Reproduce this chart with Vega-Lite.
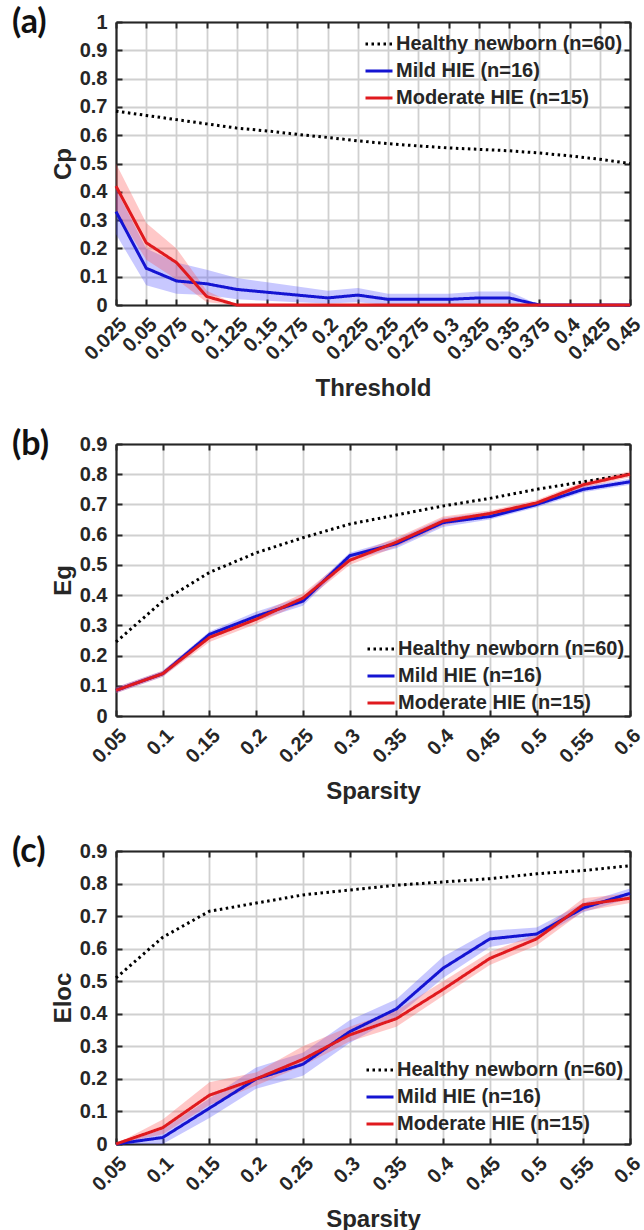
{
  "$schema": "https://vega.github.io/schema/vega-lite/v6.json",
  "background": "white",
  "padding": {"left": 12, "top": 6, "right": 0, "bottom": 0},
  "autosize": {"type": "pad"},
  "bounds": "flush",
  "spacing": 139,
  "resolve": {"scale": {"color": "independent", "strokeDash": "independent", "fill": "independent"}, "legend": {"color": "independent", "strokeDash": "independent"}},
  "datasets": {
    "a": [
      {"x": 0.025, "g": "Healthy newborn (n=60)", "y": 0.685},
      {"x": 0.05, "g": "Healthy newborn (n=60)", "y": 0.67},
      {"x": 0.075, "g": "Healthy newborn (n=60)", "y": 0.655},
      {"x": 0.1, "g": "Healthy newborn (n=60)", "y": 0.64},
      {"x": 0.125, "g": "Healthy newborn (n=60)", "y": 0.625},
      {"x": 0.15, "g": "Healthy newborn (n=60)", "y": 0.615},
      {"x": 0.175, "g": "Healthy newborn (n=60)", "y": 0.603},
      {"x": 0.2, "g": "Healthy newborn (n=60)", "y": 0.592},
      {"x": 0.225, "g": "Healthy newborn (n=60)", "y": 0.58},
      {"x": 0.25, "g": "Healthy newborn (n=60)", "y": 0.57},
      {"x": 0.275, "g": "Healthy newborn (n=60)", "y": 0.562},
      {"x": 0.3, "g": "Healthy newborn (n=60)", "y": 0.555},
      {"x": 0.325, "g": "Healthy newborn (n=60)", "y": 0.55},
      {"x": 0.35, "g": "Healthy newborn (n=60)", "y": 0.545},
      {"x": 0.375, "g": "Healthy newborn (n=60)", "y": 0.537},
      {"x": 0.4, "g": "Healthy newborn (n=60)", "y": 0.527},
      {"x": 0.425, "g": "Healthy newborn (n=60)", "y": 0.515},
      {"x": 0.45, "g": "Healthy newborn (n=60)", "y": 0.5},
      {"x": 0.025, "g": "Mild HIE (n=16)", "y": 0.33, "lo": 0.25, "hi": 0.41},
      {"x": 0.05, "g": "Mild HIE (n=16)", "y": 0.13, "lo": 0.07, "hi": 0.2},
      {"x": 0.075, "g": "Mild HIE (n=16)", "y": 0.085, "lo": 0.04, "hi": 0.15},
      {"x": 0.1, "g": "Mild HIE (n=16)", "y": 0.075, "lo": 0.035, "hi": 0.125},
      {"x": 0.125, "g": "Mild HIE (n=16)", "y": 0.055, "lo": 0.02, "hi": 0.095},
      {"x": 0.15, "g": "Mild HIE (n=16)", "y": 0.045, "lo": 0.015, "hi": 0.08},
      {"x": 0.175, "g": "Mild HIE (n=16)", "y": 0.035, "lo": 0.01, "hi": 0.065},
      {"x": 0.2, "g": "Mild HIE (n=16)", "y": 0.025, "lo": 0.005, "hi": 0.05},
      {"x": 0.225, "g": "Mild HIE (n=16)", "y": 0.035, "lo": 0.01, "hi": 0.06},
      {"x": 0.25, "g": "Mild HIE (n=16)", "y": 0.02, "lo": 0.0, "hi": 0.04},
      {"x": 0.275, "g": "Mild HIE (n=16)", "y": 0.02, "lo": 0.0, "hi": 0.04},
      {"x": 0.3, "g": "Mild HIE (n=16)", "y": 0.02, "lo": 0.0, "hi": 0.04},
      {"x": 0.325, "g": "Mild HIE (n=16)", "y": 0.025, "lo": 0.005, "hi": 0.048},
      {"x": 0.35, "g": "Mild HIE (n=16)", "y": 0.025, "lo": 0.005, "hi": 0.048},
      {"x": 0.375, "g": "Mild HIE (n=16)", "y": 0.0, "lo": 0.0, "hi": 0.0},
      {"x": 0.4, "g": "Mild HIE (n=16)", "y": 0.0, "lo": 0.0, "hi": 0.0},
      {"x": 0.425, "g": "Mild HIE (n=16)", "y": 0.0, "lo": 0.0, "hi": 0.0},
      {"x": 0.45, "g": "Mild HIE (n=16)", "y": 0.0, "lo": 0.0, "hi": 0.0},
      {"x": 0.025, "g": "Moderate HIE (n=15)", "y": 0.42, "lo": 0.33, "hi": 0.5},
      {"x": 0.05, "g": "Moderate HIE (n=15)", "y": 0.22, "lo": 0.16, "hi": 0.29},
      {"x": 0.075, "g": "Moderate HIE (n=15)", "y": 0.15, "lo": 0.09, "hi": 0.2},
      {"x": 0.1, "g": "Moderate HIE (n=15)", "y": 0.03, "lo": 0.01, "hi": 0.05},
      {"x": 0.125, "g": "Moderate HIE (n=15)", "y": 0.0, "lo": 0.0, "hi": 0.0},
      {"x": 0.15, "g": "Moderate HIE (n=15)", "y": 0.0, "lo": 0.0, "hi": 0.0},
      {"x": 0.175, "g": "Moderate HIE (n=15)", "y": 0.0, "lo": 0.0, "hi": 0.0},
      {"x": 0.2, "g": "Moderate HIE (n=15)", "y": 0.0, "lo": 0.0, "hi": 0.0},
      {"x": 0.225, "g": "Moderate HIE (n=15)", "y": 0.0, "lo": 0.0, "hi": 0.0},
      {"x": 0.25, "g": "Moderate HIE (n=15)", "y": 0.0, "lo": 0.0, "hi": 0.0},
      {"x": 0.275, "g": "Moderate HIE (n=15)", "y": 0.0, "lo": 0.0, "hi": 0.0},
      {"x": 0.3, "g": "Moderate HIE (n=15)", "y": 0.0, "lo": 0.0, "hi": 0.0},
      {"x": 0.325, "g": "Moderate HIE (n=15)", "y": 0.0, "lo": 0.0, "hi": 0.0},
      {"x": 0.35, "g": "Moderate HIE (n=15)", "y": 0.0, "lo": 0.0, "hi": 0.0},
      {"x": 0.375, "g": "Moderate HIE (n=15)", "y": 0.0, "lo": 0.0, "hi": 0.0},
      {"x": 0.4, "g": "Moderate HIE (n=15)", "y": 0.0, "lo": 0.0, "hi": 0.0},
      {"x": 0.425, "g": "Moderate HIE (n=15)", "y": 0.0, "lo": 0.0, "hi": 0.0},
      {"x": 0.45, "g": "Moderate HIE (n=15)", "y": 0.0, "lo": 0.0, "hi": 0.0}
    ],
    "b": [
      {"x": 0.05, "g": "Healthy newborn (n=60)", "y": 0.245},
      {"x": 0.1, "g": "Healthy newborn (n=60)", "y": 0.38},
      {"x": 0.15, "g": "Healthy newborn (n=60)", "y": 0.475},
      {"x": 0.2, "g": "Healthy newborn (n=60)", "y": 0.54},
      {"x": 0.25, "g": "Healthy newborn (n=60)", "y": 0.59},
      {"x": 0.3, "g": "Healthy newborn (n=60)", "y": 0.635},
      {"x": 0.35, "g": "Healthy newborn (n=60)", "y": 0.665},
      {"x": 0.4, "g": "Healthy newborn (n=60)", "y": 0.695},
      {"x": 0.45, "g": "Healthy newborn (n=60)", "y": 0.72},
      {"x": 0.5, "g": "Healthy newborn (n=60)", "y": 0.75},
      {"x": 0.55, "g": "Healthy newborn (n=60)", "y": 0.775},
      {"x": 0.6, "g": "Healthy newborn (n=60)", "y": 0.8},
      {"x": 0.05, "g": "Mild HIE (n=16)", "y": 0.085, "lo": 0.075, "hi": 0.095},
      {"x": 0.1, "g": "Mild HIE (n=16)", "y": 0.14, "lo": 0.13, "hi": 0.15},
      {"x": 0.15, "g": "Mild HIE (n=16)", "y": 0.27, "lo": 0.255, "hi": 0.28},
      {"x": 0.2, "g": "Mild HIE (n=16)", "y": 0.33, "lo": 0.315, "hi": 0.345},
      {"x": 0.25, "g": "Mild HIE (n=16)", "y": 0.38, "lo": 0.365, "hi": 0.395},
      {"x": 0.3, "g": "Mild HIE (n=16)", "y": 0.53, "lo": 0.515, "hi": 0.54},
      {"x": 0.35, "g": "Mild HIE (n=16)", "y": 0.57, "lo": 0.555, "hi": 0.585},
      {"x": 0.4, "g": "Mild HIE (n=16)", "y": 0.64, "lo": 0.625, "hi": 0.655},
      {"x": 0.45, "g": "Mild HIE (n=16)", "y": 0.66, "lo": 0.65, "hi": 0.675},
      {"x": 0.5, "g": "Mild HIE (n=16)", "y": 0.7, "lo": 0.69, "hi": 0.71},
      {"x": 0.55, "g": "Mild HIE (n=16)", "y": 0.75, "lo": 0.74, "hi": 0.76},
      {"x": 0.6, "g": "Mild HIE (n=16)", "y": 0.775, "lo": 0.765, "hi": 0.785},
      {"x": 0.05, "g": "Moderate HIE (n=15)", "y": 0.085, "lo": 0.075, "hi": 0.095},
      {"x": 0.1, "g": "Moderate HIE (n=15)", "y": 0.14, "lo": 0.13, "hi": 0.15},
      {"x": 0.15, "g": "Moderate HIE (n=15)", "y": 0.26, "lo": 0.245, "hi": 0.275},
      {"x": 0.2, "g": "Moderate HIE (n=15)", "y": 0.32, "lo": 0.305, "hi": 0.335},
      {"x": 0.25, "g": "Moderate HIE (n=15)", "y": 0.39, "lo": 0.375, "hi": 0.405},
      {"x": 0.3, "g": "Moderate HIE (n=15)", "y": 0.515, "lo": 0.5, "hi": 0.53},
      {"x": 0.35, "g": "Moderate HIE (n=15)", "y": 0.575, "lo": 0.56, "hi": 0.59},
      {"x": 0.4, "g": "Moderate HIE (n=15)", "y": 0.645, "lo": 0.63, "hi": 0.66},
      {"x": 0.45, "g": "Moderate HIE (n=15)", "y": 0.67, "lo": 0.66, "hi": 0.68},
      {"x": 0.5, "g": "Moderate HIE (n=15)", "y": 0.705, "lo": 0.695, "hi": 0.715},
      {"x": 0.55, "g": "Moderate HIE (n=15)", "y": 0.765, "lo": 0.755, "hi": 0.775},
      {"x": 0.6, "g": "Moderate HIE (n=15)", "y": 0.8, "lo": 0.79, "hi": 0.81}
    ],
    "c": [
      {"x": 0.05, "g": "Healthy newborn (n=60)", "y": 0.51},
      {"x": 0.1, "g": "Healthy newborn (n=60)", "y": 0.635},
      {"x": 0.15, "g": "Healthy newborn (n=60)", "y": 0.715},
      {"x": 0.2, "g": "Healthy newborn (n=60)", "y": 0.74},
      {"x": 0.25, "g": "Healthy newborn (n=60)", "y": 0.765},
      {"x": 0.3, "g": "Healthy newborn (n=60)", "y": 0.78},
      {"x": 0.35, "g": "Healthy newborn (n=60)", "y": 0.795},
      {"x": 0.4, "g": "Healthy newborn (n=60)", "y": 0.805},
      {"x": 0.45, "g": "Healthy newborn (n=60)", "y": 0.815},
      {"x": 0.5, "g": "Healthy newborn (n=60)", "y": 0.83},
      {"x": 0.55, "g": "Healthy newborn (n=60)", "y": 0.84},
      {"x": 0.6, "g": "Healthy newborn (n=60)", "y": 0.855},
      {"x": 0.05, "g": "Mild HIE (n=16)", "y": 0.0, "lo": 0.0, "hi": 0.0},
      {"x": 0.1, "g": "Mild HIE (n=16)", "y": 0.02, "lo": 0.0, "hi": 0.045},
      {"x": 0.15, "g": "Mild HIE (n=16)", "y": 0.11, "lo": 0.08, "hi": 0.14},
      {"x": 0.2, "g": "Mild HIE (n=16)", "y": 0.2, "lo": 0.17, "hi": 0.235},
      {"x": 0.25, "g": "Mild HIE (n=16)", "y": 0.245, "lo": 0.21, "hi": 0.28},
      {"x": 0.3, "g": "Mild HIE (n=16)", "y": 0.345, "lo": 0.31, "hi": 0.38},
      {"x": 0.35, "g": "Mild HIE (n=16)", "y": 0.415, "lo": 0.39, "hi": 0.445},
      {"x": 0.4, "g": "Mild HIE (n=16)", "y": 0.54, "lo": 0.51, "hi": 0.575},
      {"x": 0.45, "g": "Mild HIE (n=16)", "y": 0.63, "lo": 0.605, "hi": 0.655},
      {"x": 0.5, "g": "Mild HIE (n=16)", "y": 0.645, "lo": 0.63, "hi": 0.665},
      {"x": 0.55, "g": "Mild HIE (n=16)", "y": 0.725, "lo": 0.712, "hi": 0.74},
      {"x": 0.6, "g": "Mild HIE (n=16)", "y": 0.77, "lo": 0.755, "hi": 0.785},
      {"x": 0.05, "g": "Moderate HIE (n=15)", "y": 0.0, "lo": 0.0, "hi": 0.0},
      {"x": 0.1, "g": "Moderate HIE (n=15)", "y": 0.05, "lo": 0.03, "hi": 0.075},
      {"x": 0.15, "g": "Moderate HIE (n=15)", "y": 0.15, "lo": 0.12, "hi": 0.19},
      {"x": 0.2, "g": "Moderate HIE (n=15)", "y": 0.2, "lo": 0.18, "hi": 0.22},
      {"x": 0.25, "g": "Moderate HIE (n=15)", "y": 0.26, "lo": 0.24, "hi": 0.3},
      {"x": 0.3, "g": "Moderate HIE (n=15)", "y": 0.335, "lo": 0.315, "hi": 0.36},
      {"x": 0.35, "g": "Moderate HIE (n=15)", "y": 0.385, "lo": 0.36, "hi": 0.41},
      {"x": 0.4, "g": "Moderate HIE (n=15)", "y": 0.475, "lo": 0.455, "hi": 0.5},
      {"x": 0.45, "g": "Moderate HIE (n=15)", "y": 0.57, "lo": 0.55, "hi": 0.59},
      {"x": 0.5, "g": "Moderate HIE (n=15)", "y": 0.63, "lo": 0.61, "hi": 0.645},
      {"x": 0.55, "g": "Moderate HIE (n=15)", "y": 0.735, "lo": 0.715, "hi": 0.755},
      {"x": 0.6, "g": "Moderate HIE (n=15)", "y": 0.755, "lo": 0.74, "hi": 0.77}
    ]
  },
  "vconcat": [
    {
      "width": 514,
      "height": 283,
      "title": {"text": "(a)"},
      "data": {"name": "a"},
      "layer": [
        {
          "mark": {"type": "area", "opacity": 0.3},
          "transform": [{"filter": "datum.lo != null"}],
          "encoding": {
            "x": {"field": "x", "type": "quantitative", "scale": {"domain": [0.025, 0.45], "nice": false, "zero": false},
              "axis": {"orient": "bottom", "title": "Threshold", "values": [0.025, 0.05, 0.075, 0.1, 0.125, 0.15, 0.175, 0.2, 0.225, 0.25, 0.275, 0.3, 0.325, 0.35, 0.375, 0.4, 0.425, 0.45]}},
            "y": {"field": "lo", "type": "quantitative", "scale": {"domain": [0, 1], "nice": false},
              "axis": {"orient": "left", "title": "Cp", "values": [0, 0.1, 0.2, 0.3, 0.4, 0.5, 0.6, 0.7, 0.8, 0.9, 1]}},
            "y2": {"field": "hi"},
            "fill": {"field": "g", "type": "nominal", "legend": null,
              "scale": {"domain": ["Mild HIE (n=16)", "Moderate HIE (n=15)"], "range": ["#4848ff", "#ff4848"]}}
          }
        },
        {
          "mark": {"type": "line", "strokeWidth": 3},
          "encoding": {
            "x": {"field": "x", "type": "quantitative", "axis": null},
            "y": {"field": "y", "type": "quantitative", "axis": null},
            "color": {"field": "g", "type": "nominal",
              "scale": {"domain": ["Healthy newborn (n=60)", "Mild HIE (n=16)", "Moderate HIE (n=15)"], "range": ["#000000", "#1414d2", "#e01a1e"]},
              "legend": {"orient": "none", "legendX": 248, "legendY": 7, "title": null}},
            "strokeDash": {"field": "g", "type": "nominal",
              "scale": {"domain": ["Healthy newborn (n=60)", "Mild HIE (n=16)", "Moderate HIE (n=15)"], "range": [[2.5, 3.5], [1, 0], [1, 0]]},
              "legend": {"orient": "none", "legendX": 248, "legendY": 7, "title": null}}
          }
        },
        {
          "mark": {"type": "line", "opacity": 0},
          "encoding": {
            "x": {"field": "x", "type": "quantitative",
              "axis": {"orient": "top", "labels": false, "title": null, "grid": false, "values": [0.025, 0.05, 0.075, 0.1, 0.125, 0.15, 0.175, 0.2, 0.225, 0.25, 0.275, 0.3, 0.325, 0.35, 0.375, 0.4, 0.425, 0.45]}},
            "y": {"field": "y", "type": "quantitative",
              "axis": {"orient": "right", "labels": false, "title": null, "grid": false, "values": [0, 0.1, 0.2, 0.3, 0.4, 0.5, 0.6, 0.7, 0.8, 0.9, 1]}}
          }
        }
      ],
      "resolve": {"axis": {"x": "independent", "y": "independent"}}
    },
    {
      "spacing": 135,
      "bounds": "flush",
      "resolve": {"scale": {"color": "independent", "strokeDash": "independent", "fill": "independent"}, "legend": {"color": "independent", "strokeDash": "independent"}},
      "vconcat": [
        {
          "width": 514,
          "height": 272,
          "title": {"text": "(b)"},
          "data": {"name": "b"},
          "layer": [
            {
              "mark": {"type": "area", "opacity": 0.3},
              "transform": [{"filter": "datum.lo != null"}],
              "encoding": {
                "x": {"field": "x", "type": "quantitative", "scale": {"domain": [0.05, 0.6], "nice": false, "zero": false},
                  "axis": {"orient": "bottom", "title": "Sparsity", "values": [0.05, 0.1, 0.15, 0.2, 0.25, 0.3, 0.35, 0.4, 0.45, 0.5, 0.55, 0.6]}},
                "y": {"field": "lo", "type": "quantitative", "scale": {"domain": [0, 0.9], "nice": false},
                  "axis": {"orient": "left", "title": "Eg", "values": [0, 0.1, 0.2, 0.3, 0.4, 0.5, 0.6, 0.7, 0.8, 0.9]}},
                "y2": {"field": "hi"},
                "fill": {"field": "g", "type": "nominal", "legend": null,
                  "scale": {"domain": ["Mild HIE (n=16)", "Moderate HIE (n=15)"], "range": ["#4848ff", "#ff4848"]}}
              }
            },
            {
              "mark": {"type": "line", "strokeWidth": 3},
              "encoding": {
                "x": {"field": "x", "type": "quantitative", "axis": null},
                "y": {"field": "y", "type": "quantitative", "axis": null},
                "color": {"field": "g", "type": "nominal",
                  "scale": {"domain": ["Healthy newborn (n=60)", "Mild HIE (n=16)", "Moderate HIE (n=15)"], "range": ["#000000", "#1414d2", "#e01a1e"]},
                  "legend": {"orient": "none", "legendX": 250, "legendY": 190, "title": null}},
                "strokeDash": {"field": "g", "type": "nominal",
                  "scale": {"domain": ["Healthy newborn (n=60)", "Mild HIE (n=16)", "Moderate HIE (n=15)"], "range": [[2.5, 3.5], [1, 0], [1, 0]]},
                  "legend": {"orient": "none", "legendX": 250, "legendY": 190, "title": null}}
              }
            },
            {
              "mark": {"type": "line", "opacity": 0},
              "encoding": {
                "x": {"field": "x", "type": "quantitative",
                  "axis": {"orient": "top", "labels": false, "title": null, "grid": false, "values": [0.05, 0.1, 0.15, 0.2, 0.25, 0.3, 0.35, 0.4, 0.45, 0.5, 0.55, 0.6]}},
                "y": {"field": "y", "type": "quantitative",
                  "axis": {"orient": "right", "labels": false, "title": null, "grid": false, "values": [0, 0.1, 0.2, 0.3, 0.4, 0.5, 0.6, 0.7, 0.8, 0.9]}}
              }
            }
          ],
          "resolve": {"axis": {"x": "independent", "y": "independent"}}
        },
        {
          "width": 514,
          "height": 293,
          "title": {"text": "(c)"},
          "data": {"name": "c"},
          "layer": [
            {
              "mark": {"type": "area", "opacity": 0.3},
              "transform": [{"filter": "datum.lo != null"}],
              "encoding": {
                "x": {"field": "x", "type": "quantitative", "scale": {"domain": [0.05, 0.6], "nice": false, "zero": false},
                  "axis": {"orient": "bottom", "title": "Sparsity", "values": [0.05, 0.1, 0.15, 0.2, 0.25, 0.3, 0.35, 0.4, 0.45, 0.5, 0.55, 0.6]}},
                "y": {"field": "lo", "type": "quantitative", "scale": {"domain": [0, 0.9], "nice": false},
                  "axis": {"orient": "left", "title": "Eloc", "values": [0, 0.1, 0.2, 0.3, 0.4, 0.5, 0.6, 0.7, 0.8, 0.9]}},
                "y2": {"field": "hi"},
                "fill": {"field": "g", "type": "nominal", "legend": null,
                  "scale": {"domain": ["Mild HIE (n=16)", "Moderate HIE (n=15)"], "range": ["#4848ff", "#ff4848"]}}
              }
            },
            {
              "mark": {"type": "line", "strokeWidth": 3},
              "encoding": {
                "x": {"field": "x", "type": "quantitative", "axis": null},
                "y": {"field": "y", "type": "quantitative", "axis": null},
                "color": {"field": "g", "type": "nominal",
                  "scale": {"domain": ["Healthy newborn (n=60)", "Mild HIE (n=16)", "Moderate HIE (n=15)"], "range": ["#000000", "#1414d2", "#e01a1e"]},
                  "legend": {"orient": "none", "legendX": 249, "legendY": 204, "title": null}},
                "strokeDash": {"field": "g", "type": "nominal",
                  "scale": {"domain": ["Healthy newborn (n=60)", "Mild HIE (n=16)", "Moderate HIE (n=15)"], "range": [[2.5, 3.5], [1, 0], [1, 0]]},
                  "legend": {"orient": "none", "legendX": 249, "legendY": 204, "title": null}}
              }
            },
            {
              "mark": {"type": "line", "opacity": 0},
              "encoding": {
                "x": {"field": "x", "type": "quantitative",
                  "axis": {"orient": "top", "labels": false, "title": null, "grid": false, "values": [0.05, 0.1, 0.15, 0.2, 0.25, 0.3, 0.35, 0.4, 0.45, 0.5, 0.55, 0.6]}},
                "y": {"field": "y", "type": "quantitative",
                  "axis": {"orient": "right", "labels": false, "title": null, "grid": false, "values": [0, 0.1, 0.2, 0.3, 0.4, 0.5, 0.6, 0.7, 0.8, 0.9]}}
              }
            }
          ],
          "resolve": {"axis": {"x": "independent", "y": "independent"}}
        }
      ]
    }
  ],
  "config": {
    "view": {"stroke": null},
    "axis": {
      "domain": true, "domainColor": "#262626", "domainWidth": 2.2,
      "grid": true, "gridColor": "#d0d0d0", "gridWidth": 1.8,
      "ticks": true, "tickColor": "#262626", "tickSize": -6, "tickWidth": 2,
      "labelPadding": 15, "labelOverlap": false, "labelFlush": false,
      "labelExpr": "'' + datum.value",
      "labelFont": "Liberation Sans", "labelFontWeight": "bold", "labelFontSize": 20, "labelColor": "#262626",
      "titleFont": "Liberation Sans", "titleFontWeight": "bold", "titleFontSize": 24, "titleColor": "#262626",
      "titlePadding": 4
    },
    "axisBottom": {"labelAngle": -45, "titlePadding": 13},
    "legend": {
      "symbolType": "stroke", "symbolSize": 729, "symbolStrokeWidth": 3,
      "labelFont": "Liberation Sans", "labelFontWeight": "bold", "labelFontSize": 20, "labelColor": "#262626",
      "labelOffset": 2, "rowPadding": 2, "padding": 0, "labelLimit": 400
    },
    "title": {
      "font": "Lato", "fontSize": 34, "fontWeight": "bold", "color": "#111111",
      "anchor": "start", "frame": "group", "dx": -104, "dy": 32, "baseline": "middle", "offset": 0
    }
  }
}
